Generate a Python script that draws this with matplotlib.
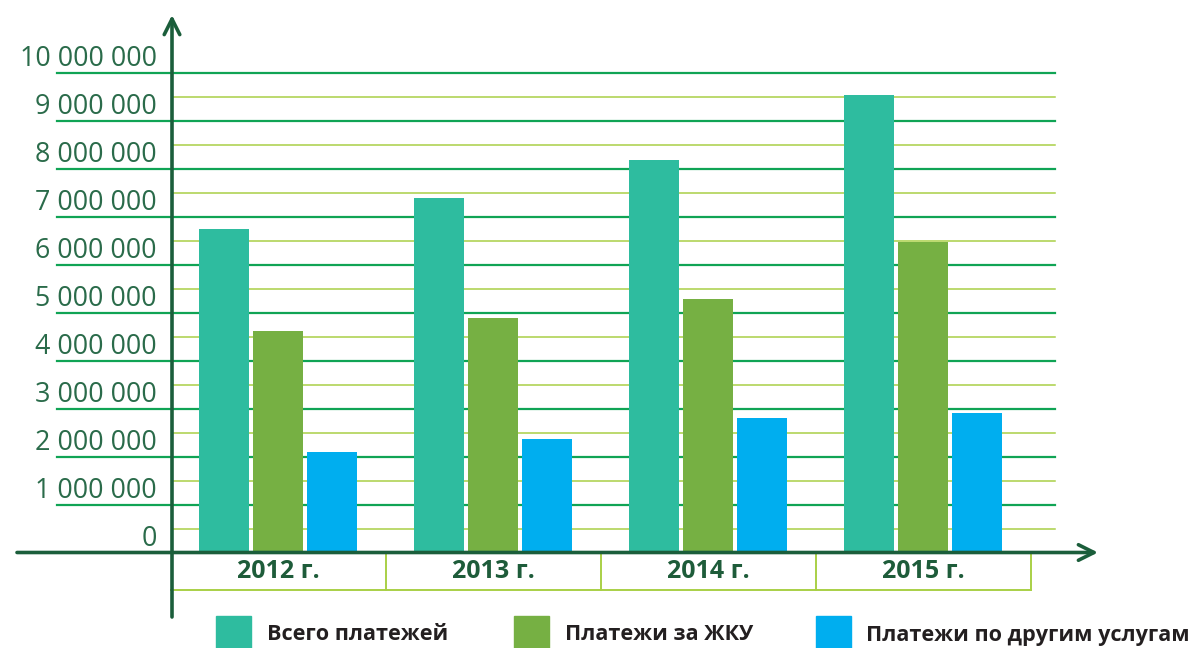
import matplotlib
matplotlib.use("Agg")
import matplotlib.pyplot as plt
from matplotlib.patches import Rectangle
from matplotlib.transforms import ScaledTranslation, blended_transform_factory
import numpy as np

years = ["2012 г.", "2013 г.", "2014 г.", "2015 г."]
total = [6740000, 7390000, 8180000, 9530000]
zhku = [4620000, 4880000, 5280000, 6470000]
other = [2090000, 2370000, 2800000, 2910000]
series_names = ["Всего платежей", "Платежи за ЖКУ", "Платежи по другим услугам"]
y_ticks = list(range(0, 10000001, 1000000))

c_total = "#2ebc9f"
c_zhku = "#76b043"
c_other = "#00aeef"
c_major = "#10a455"
c_minor = "#a9d046"
c_axis = "#1b5e3b"
c_label = "#2a6b4a"

W, H = 1195, 648
fig = plt.figure(figsize=(W / 100, H / 100), dpi=100)
L, R, T, B = 172, 1055, 72.7, 552.5
ax = fig.add_axes([L / W, (H - B) / H, (R - L) / W, (B - T) / H])
ax.set_ylim(0, 10000000)
ax.set_xlim(-0.495, 3.612)
for s in ax.spines.values():
    s.set_visible(False)

x = np.arange(len(years))
bw = 50 / 215
off = 54 / 215
ax.bar(x - off, total, bw, color=c_total, zorder=3)
ax.bar(x, zhku, bw, color=c_zhku, zorder=3)
ax.bar(x + off, other, bw, color=c_other, zorder=3)

tr = blended_transform_factory(ax.transAxes, ax.transData)
xl_major = (57 - L) / (R - L)
for v in y_ticks[1:]:
    ax.plot([xl_major, 1], [v, v], color=c_major, lw=1.6, transform=tr, clip_on=False, zorder=1)
for v in np.arange(500000, 10000000, 1000000):
    ax.plot([0, 1], [v, v], color=c_minor, lw=1.1, transform=tr, clip_on=False, zorder=1)

# y tick labels
ax.set_yticks(y_ticks)
ax.set_yticklabels([f"{v:,}".replace(",", " ") for v in y_ticks],
                   fontfamily="Open Sans", fontsize=19.4, color=c_label)
ax.tick_params(axis="y", length=0, pad=11)
for lab in ax.get_yticklabels():
    lab.set_transform(lab.get_transform() + ScaledTranslation(0, 0.17, fig.dpi_scale_trans))
ax.set_xticks([])

# category boxes
trx = blended_transform_factory(ax.transData, ax.transAxes)
box_bot = -(590 - B) / (B - T)
for i in range(len(years)):
    ax.plot([i + 0.5, i + 0.5], [0, box_bot], color=c_minor, lw=1.4, transform=trx, clip_on=False, zorder=2)
    ax.text(i, box_bot / 2, years[i], transform=trx, ha="center", va="center",
            fontfamily="Open Sans", fontweight="bold", fontsize=18, color="#1e5c3a")
ax.plot([-0.5, 3.5], [box_bot, box_bot], color=c_minor, lw=1.4, transform=trx, clip_on=False, zorder=2)

# axes with arrows
ax.annotate("", xy=(0, (B - 15) / (B - T)), xytext=(0, -(617 - B) / (B - T)),
            xycoords="axes fraction", textcoords="axes fraction",
            arrowprops=dict(arrowstyle="->", lw=2.6, color=c_axis, mutation_scale=28,
                            shrinkA=0, shrinkB=0), zorder=5, annotation_clip=False)
ax.annotate("", xy=((1098 - L) / (R - L), 0), xytext=((17 - L) / (R - L), 0),
            xycoords="axes fraction", textcoords="axes fraction",
            arrowprops=dict(arrowstyle="->", lw=2.6, color=c_axis, mutation_scale=28,
                            shrinkA=0, shrinkB=0), zorder=5, annotation_clip=False)

# legend
leg = [(216, c_total, series_names[0], 267), (514, c_zhku, series_names[1], 565), (816, c_other, series_names[2], 866)]
for sx, col, name, tx in leg:
    fig.patches.append(Rectangle((sx / W, (H - 652) / H), 35 / W, 36 / H, color=col,
                                 transform=fig.transFigure, figure=fig))
    fig.text(tx / W, (H - 635) / H, name, ha="left", va="center", fontfamily="Open Sans",
             fontweight="bold", fontsize=15.6, color="#231f20")

fig.savefig("out.png", dpi=100)
